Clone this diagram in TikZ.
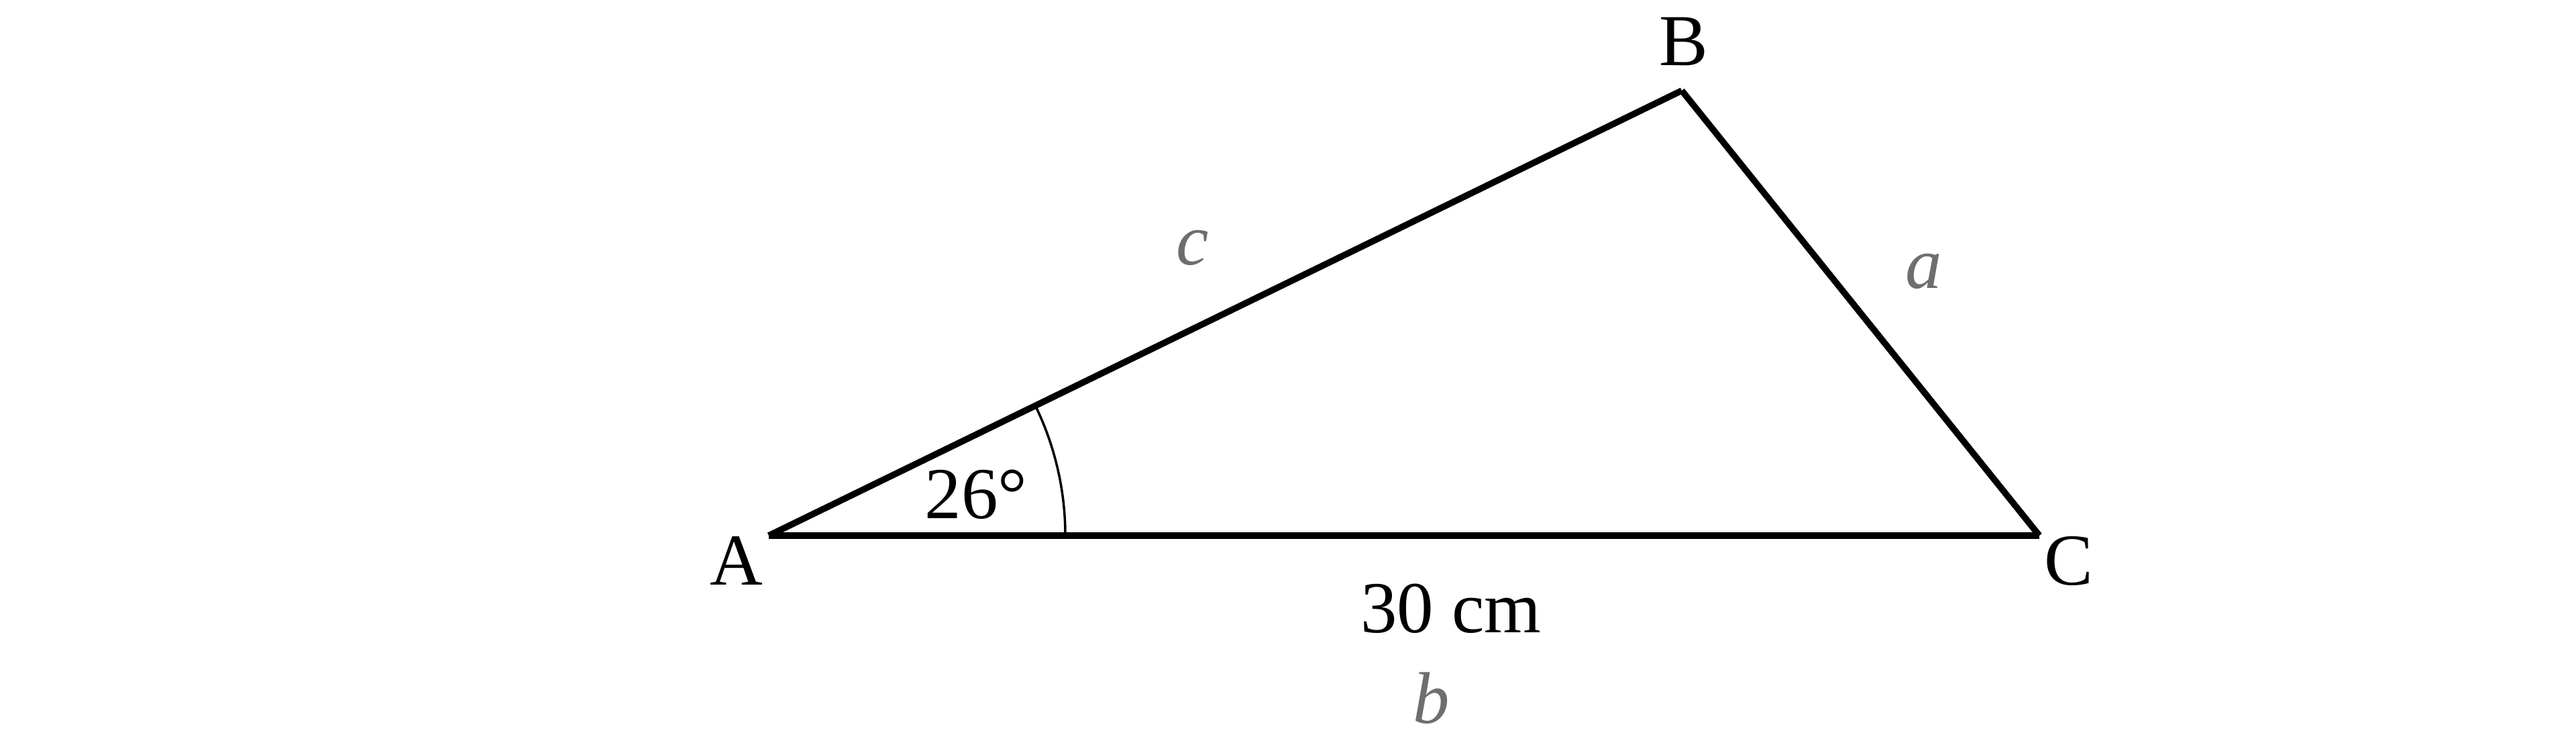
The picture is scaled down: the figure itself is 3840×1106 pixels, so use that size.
\documentclass[tikz,border=0pt]{standalone}
\usepackage{fontspec}
\setmainfont{Liberation Serif}
\definecolor{lblgray}{RGB}{110,110,110}
\tikzset{
  side/.style={line width=2.7pt, line cap=butt},
  anglearc/.style={line width=1pt},
  vlabel/.style={anchor=base, inner sep=0pt, font=\fontsize{31}{37}\selectfont},
  slabel/.style={anchor=base, inner sep=0pt, text=lblgray, font=\fontsize{31}{37}\selectfont\itshape},
}
\begin{document}
\begin{tikzpicture}[x=0.01cm, y=0.01cm]
\useasboundingbox (0,0) rectangle (3840,1106);
\coordinate (A) at (1146,308);
\coordinate (B) at (2507,971);
\coordinate (C) at (3040,308);
\draw[side] (A) -- (B);
\draw[side] (B) -- (C);
\draw[side] (A) -- (C);
\draw[anglearc] (A) ++(442,0) coordinate (arcstart) arc[start angle=0, end angle=26, radius=442];
\node[vlabel] (lA) at (1098,234) {A};
\node[vlabel] (lB) at (2510,1008) {B};
\node[vlabel] (lC) at (3084,234) {C};
\node[vlabel] (ang) at (1455,333) {26°};
\node[vlabel] (len) at (2163,163) {30 cm};
\node[slabel] (lb) at (2134,29) {b};
\node[slabel] (lc) at (1778,711) {c};
\node[slabel] (la) at (2868,676) {a};
\end{tikzpicture}
\end{document}
